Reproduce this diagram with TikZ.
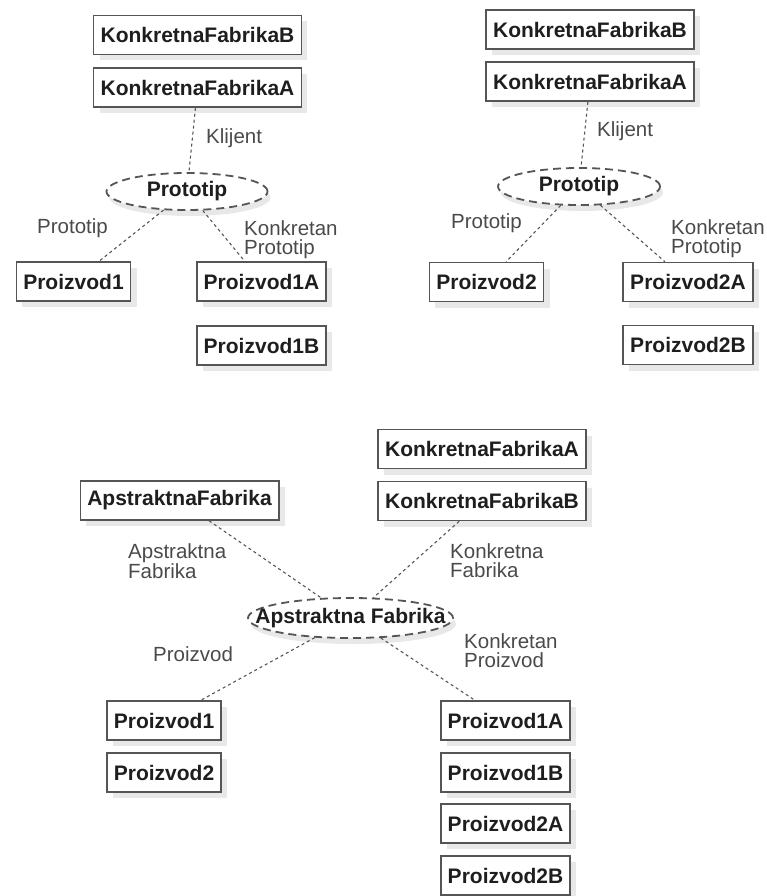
\documentclass[tikz,border=0pt]{standalone}
\usepackage{fontspec}
\setmainfont{Liberation Sans}
\usetikzlibrary{shapes.geometric,shadows}
\definecolor{edgec}{HTML}{555555}
\definecolor{lblc}{HTML}{4A4A4A}
\definecolor{txtc}{HTML}{1E1E1E}
\begin{document}
\begin{tikzpicture}[x=1pt,y=-1pt,
  box/.style={rectangle, draw=edgec, line width=1.6pt, fill=white, minimum height=39pt,
    inner xsep=7pt, inner ysep=0pt, font=\fontsize{21}{24}\bfseries\selectfont, text=txtc,
    drop shadow={shadow xshift=6pt, shadow yshift=-6pt, fill=black!9, opacity=1}},
  oval/.style={ellipse, draw=edgec, line width=1.8pt, dash pattern=on 8pt off 5pt,
    fill=white, inner sep=0pt,
    drop shadow={shadow xshift=3pt, shadow yshift=-6pt, fill=black!9, opacity=1}},
  otext/.style={inner sep=0pt, font=\fontsize{21}{24}\bfseries\selectfont, text=txtc},
  lab/.style={inner sep=0pt, align=left, font=\fontsize{20.5}{19}\selectfont, text=lblc},
  link/.style={draw=edgec, line width=1.1pt, dash pattern=on 3pt off 3pt}]
\useasboundingbox (0,0) rectangle (766,896);

% ---------- top-left group ----------
\node[box] (tlKFB) at (197.5,35) {KonkretnaFabrikaB};
\node[box] (tlKFA) at (197.5,87.5) {KonkretnaFabrikaA};
\node[oval, minimum width=161pt, minimum height=37pt] (tlE) at (187,191.5) {};
\node[otext] (tlEt) at (tlE.center) {Prototip};
\node[box] (tlP1) at (73.5,281.5) {Proizvod1};
\node[box] (tlP1A) at (261.5,281.5) {Proizvod1A};
\node[box] (tlP1B) at (261.5,345.5) {Proizvod1B};
\draw[link] (tlKFA) -- (tlE);
\draw[link] (tlE) -- (tlP1);
\draw[link] (tlE) -- (tlP1A);
\node[lab, anchor=base west] (tlL1) at (206,143.5) {Klijent};
\node[lab, anchor=base west] (tlL2) at (37,233) {Prototip};
\node[lab, anchor=north west] (tlL3) at (244,220.5) {Konkretan\\Prototip};

% ---------- top-right group ----------
\node[box] (trKFB) at (590,29.5) {KonkretnaFabrikaB};
\node[box] (trKFA) at (590,81.5) {KonkretnaFabrikaA};
\node[oval, minimum width=162pt, minimum height=37pt] (trE) at (579,186.5) {};
\node[otext] (trEt) at (trE.center) {Prototip};
\node[box] (trP2) at (486.5,282) {Proizvod2};
\node[box] (trP2A) at (688,282) {Proizvod2A};
\node[box] (trP2B) at (688,345) {Proizvod2B};
\draw[link] (trKFA) -- (trE);
\draw[link] (trE) -- (trP2);
\draw[link] (trE) -- (trP2A);
\node[lab, anchor=base west] (trL1) at (597,137) {Klijent};
\node[lab, anchor=base west] (trL2) at (451,228) {Prototip};
\node[lab, anchor=north west] (trL3) at (671,219) {Konkretan\\Prototip};

% ---------- bottom group ----------
\node[box] (bKFA) at (482,449) {KonkretnaFabrikaA};
\node[box] (bKFB) at (482,501) {KonkretnaFabrikaB};
\node[box] (bAF) at (179.5,500.5) {ApstraktnaFabrika};
\node[oval, minimum width=205pt, minimum height=40pt] (bE) at (350.5,618) {};
\node[otext] (bEt) at (bE.center) {Apstraktna Fabrika};
\node[box] (bP1) at (164,720.5) {Proizvod1};
\node[box] (bP2) at (164,772.5) {Proizvod2};
\node[box] (bP1A) at (505.5,720.5) {Proizvod1A};
\node[box] (bP1B) at (505.5,772.5) {Proizvod1B};
\node[box] (bP2A) at (505.5,823.5) {Proizvod2A};
\node[box] (bP2B) at (505.5,875.5) {Proizvod2B};
\draw[link] (bAF) -- (bE);
\draw[link] (bKFB) -- (bE);
\draw[link] (bE) -- (bP1);
\draw[link] (bE) -- (bP1A);
\node[lab, anchor=north west] (bL1) at (128,543) {Apstraktna\\Fabrika};
\node[lab, anchor=north west] (bL2) at (450,543) {Konkretna\\Fabrika};
\node[lab, anchor=base west] (bL3) at (153,661) {Proizvod};
\node[lab, anchor=north west] (bL4) at (464,633) {Konkretan\\Proizvod};
\end{tikzpicture}
\end{document}
